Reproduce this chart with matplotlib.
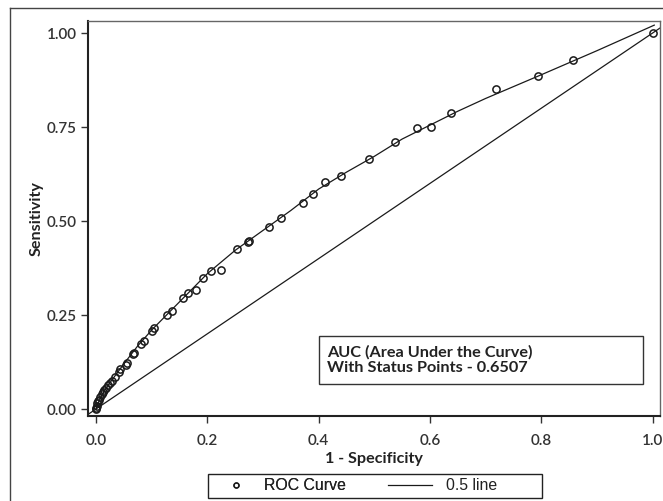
import matplotlib
matplotlib.use('Agg')
import matplotlib.pyplot as plt
from matplotlib.lines import Line2D
from matplotlib.patches import Rectangle

# observed ROC status points (1 - specificity, sensitivity)
fpr_points = [0.0, 0.0, 0.001, 0.002, 0.003, 0.005, 0.007, 0.010, 0.013, 0.015,
              0.018, 0.021, 0.025, 0.028, 0.034, 0.041, 0.043, 0.053, 0.055, 0.066,
              0.068, 0.080, 0.086, 0.100, 0.104, 0.128, 0.136, 0.157, 0.165, 0.179,
              0.192, 0.206, 0.224, 0.254, 0.273, 0.275, 0.310, 0.333, 0.371, 0.389,
              0.411, 0.440, 0.490, 0.538, 0.576, 0.602, 0.638, 0.719, 0.794, 0.857, 1.0]
tpr_points = [0.0, 0.002, 0.008, 0.015, 0.020, 0.024, 0.033, 0.040, 0.046, 0.050,
              0.057, 0.063, 0.068, 0.075, 0.086, 0.099, 0.106, 0.117, 0.122, 0.145,
              0.150, 0.172, 0.182, 0.207, 0.215, 0.250, 0.261, 0.294, 0.308, 0.316,
              0.349, 0.368, 0.371, 0.425, 0.444, 0.448, 0.485, 0.508, 0.547, 0.571,
              0.603, 0.620, 0.664, 0.710, 0.748, 0.751, 0.787, 0.852, 0.886, 0.928, 1.0]

# smoothed ROC curve
fit_x = [0.0, 0.005, 0.01, 0.02, 0.03, 0.05, 0.075, 0.1, 0.15, 0.2, 0.25, 0.3,
         0.35, 0.4, 0.45, 0.5, 0.55, 0.6, 0.65, 0.7, 0.8, 0.9, 1.003]
fit_y = [0.0, 0.02, 0.035, 0.06, 0.08, 0.12, 0.168, 0.21, 0.285, 0.36, 0.422, 0.475,
         0.528, 0.585, 0.63, 0.672, 0.718, 0.755, 0.792, 0.826, 0.889, 0.953, 1.021]

auc_value = 0.6507
x_ticks = [0.0, 0.2, 0.4, 0.6, 0.8, 1.0]
y_ticks = [0.0, 0.25, 0.5, 0.75, 1.0]

ink = '#1a1a1a'
W, H = 663, 501

fig = plt.figure(figsize=(W / 100, H / 100), dpi=100)
ax = fig.add_axes([88 / W, 1 - 416 / H, 572 / W, 395 / H])

ax.plot(fit_x, fit_y, color=ink, lw=0.9, zorder=2)
ax.axline((0, 0), (1, 1), color=ink, lw=0.9, zorder=2)
ax.plot(fpr_points, tpr_points, 'o', ms=5.2, mfc='none', mec=ink, mew=1.1, zorder=3)

ax.set_xlim(-0.0144, 1.0133)
ax.set_ylim(-0.0186, 1.032)
ax.set_xticks(x_ticks)
ax.set_xticklabels(['0.0', '0.2', '0.4', '0.6', '0.8', '1.0'])
ax.set_yticks(y_ticks)
ax.set_yticklabels(['0.00', '0.25', '0.50', '0.75', '1.00'])
ax.tick_params(axis='x', length=5, width=1, pad=8, labelsize=11, colors='#333333')
ax.tick_params(axis='y', length=5, width=1, pad=3, labelsize=11, colors='#333333')
for lab in ax.get_xticklabels() + ax.get_yticklabels():
    lab.set_family('Lato')
    lab.set_fontweight('semibold')

for side in ('left', 'bottom'):
    ax.spines[side].set_linewidth(1.5)
    ax.spines[side].set_color('#222222')
for side in ('top', 'right'):
    ax.spines[side].set_linewidth(1.0)
    ax.spines[side].set_color('#666666')

ax.set_xlabel('1 - Specificity', family='Lato', fontweight='bold', fontsize=11.6,
              color='#222222', labelpad=3)
ax.set_ylabel('Sensitivity', family='Lato', fontweight='bold', fontsize=11.6,
              color='#222222', labelpad=2)

# AUC note box
ax.add_patch(Rectangle((0.4006, 0.0665), 0.582, 0.1265, fill=False, ec='#333333',
                       lw=1.0, zorder=4))
ax.text(0.4155, 0.1295, 'AUC (Area Under the Curve)\nWith Status Points - %.4f' % auc_value,
        family='Lato', fontweight='bold', fontsize=11.7, color='#222222',
        va='center', ha='left', linespacing=1.12, zorder=5)

# outer frame
fig.add_artist(Line2D([10 / W, 10 / W], [0, 1 - 8 / H], transform=fig.transFigure,
                      color='#444444', lw=1.0))
fig.add_artist(Line2D([10 / W, 1], [1 - 8 / H, 1 - 8 / H], transform=fig.transFigure,
                      color='#444444', lw=1.0))

# legend: fixed-width box with two entries
fig.add_artist(Rectangle((208 / W, 1 - 497.5 / H), 334 / W, 23.5 / H,
                         transform=fig.transFigure, fill=False, ec='#222222', lw=1.0))
leg_font = {'family': 'Liberation Sans', 'size': 11.4}
leg_y = 1 - 486 / H
roc_handle = Line2D([], [], ls='none', marker='o', ms=3.6, mfc='none', mec=ink, mew=1.0)
ref_handle = Line2D([], [], color=ink, lw=0.9)
leg1 = fig.legend([roc_handle], ['ROC Curve'], loc='center left',
                  bbox_to_anchor=(220 / W, leg_y), prop=leg_font, frameon=False,
                  borderpad=0, borderaxespad=0, handlelength=2.0, handletextpad=0.78)
leg2 = fig.legend([ref_handle], ['0.5 line'], loc='center left',
                  bbox_to_anchor=(387.7 / W, leg_y), prop=leg_font, frameon=False,
                  borderpad=0, borderaxespad=0, handlelength=2.82, handletextpad=0.87)
fig.add_artist(leg1)
for leg in (leg1, leg2):
    for t in leg.get_texts():
        t.set_color('#222222')

fig.savefig('out.png', dpi=100)
